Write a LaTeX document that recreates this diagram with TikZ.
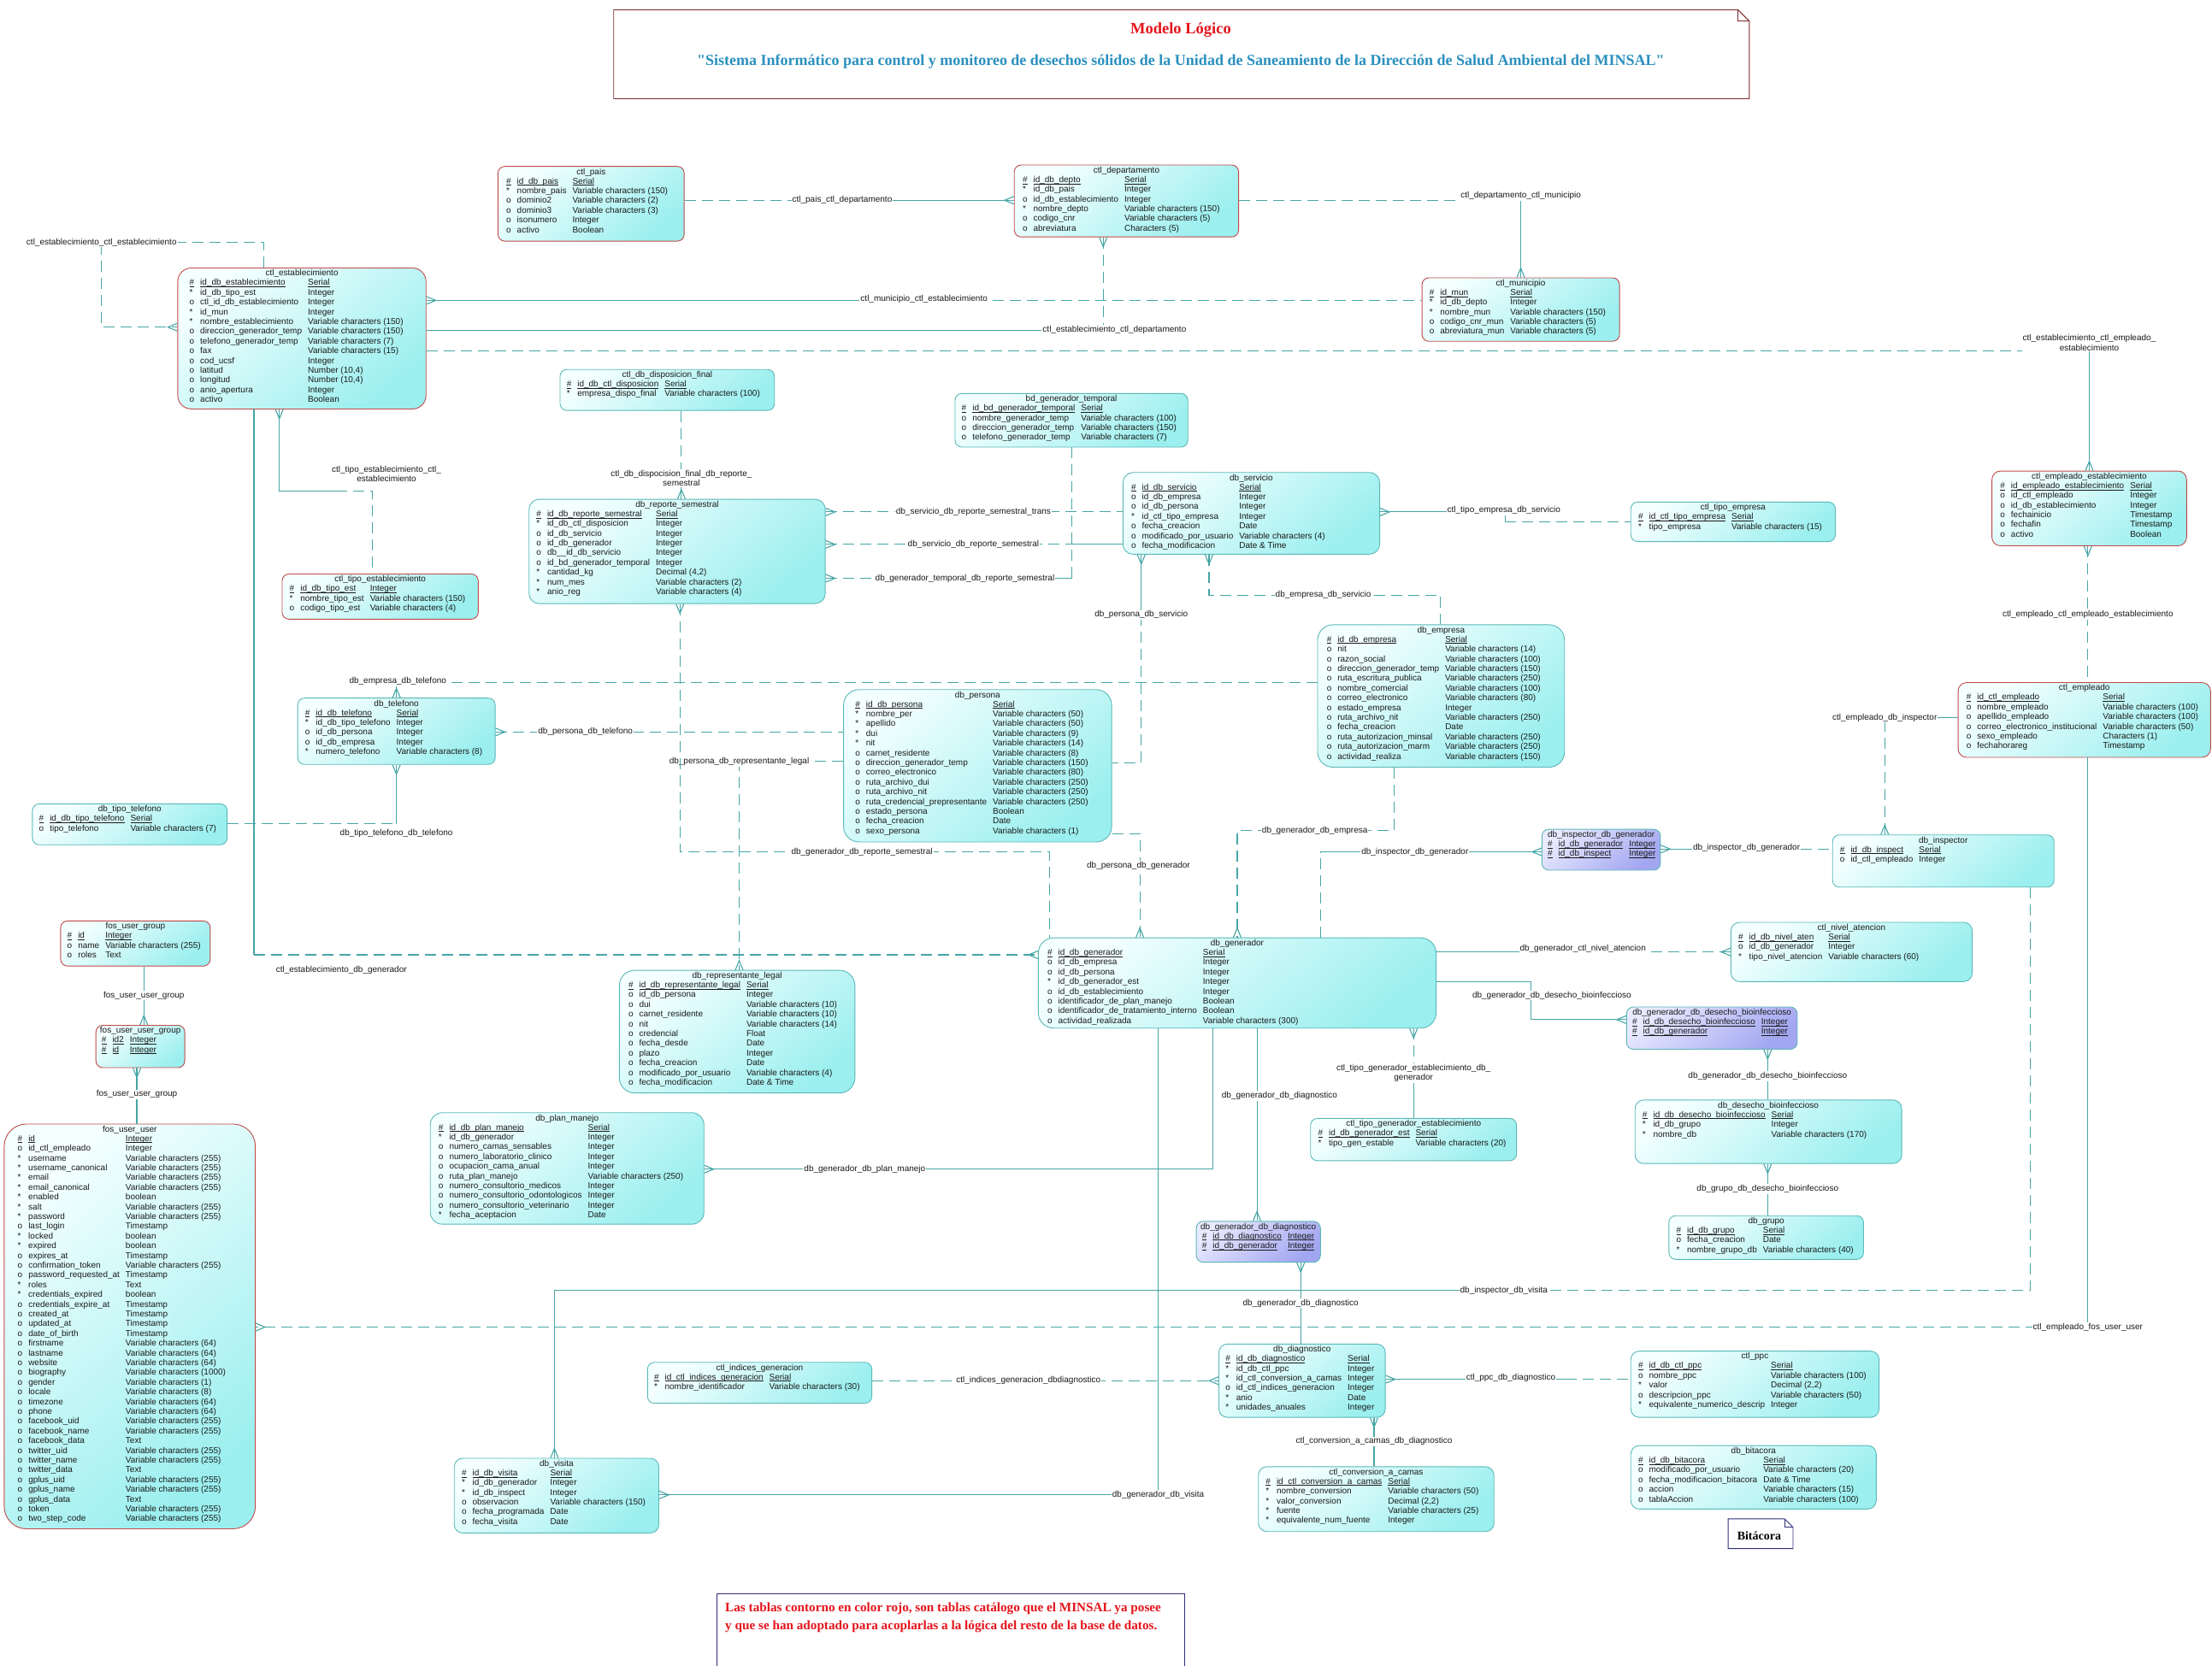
\documentclass[tikz,border=0pt]{standalone}
\usepackage{fontspec}
\setmainfont{Liberation Serif}
\newfontfamily\arialfont{Liberation Sans}
\usetikzlibrary{arrows.meta,fit}
\definecolor{tinta}{HTML}{1A1A1A}
\definecolor{linea}{HTML}{46A6A6}
\definecolor{bordeteal}{HTML}{5BB8B8}
\definecolor{borderojo}{HTML}{C24A48}
\definecolor{celeste0}{HTML}{F4FFFF}
\definecolor{celeste1}{HTML}{9CEFEF}
\definecolor{lila0}{HTML}{E8EAFF}
\definecolor{lila1}{HTML}{A2A6F0}
\definecolor{granate}{HTML}{7A2A2A}
\definecolor{azulnota}{HTML}{2E2E78}
\definecolor{rojotitulo}{HTML}{E5141B}
\definecolor{azultitulo}{HTML}{2A90BE}

\newcommand{\tblfont}{\arialfont\fontsize{10}{11.4}\selectfont}
\newcommand{\ob}{*}
\newcommand{\sub}[1]{\underline{\smash{#1}}}
\newcommand{\pk}[2]{\sub{\#} & \sub{#1} & \sub{#2}\\}
% tabla: estilo, margen, nombre, esquina NO, esquina SE, titulo, filas
\newcommand{\tabla}[7]{%
  \node[#1, fit={#4 #5}] (#3) {};
  \node[nombre] (#3-t) at ([yshift=-2pt]#3.north) {#6};
  \node[filas] (#3-f) at ([xshift=#2, yshift=-12.6pt]#3.north west)
    {\begin{tabular}{@{}l@{\hspace{7pt}}l@{\hspace{7pt}}l@{}}#7\end{tabular}};}

% pata de gallo
\pgfdeclarearrow{
  name = Crow,
  parameters = {\the\pgfarrowlength,\the\pgfarrowwidth},
  setup code = {
    \pgfarrowssettipend{0pt}
    \pgfarrowssetlineend{0pt}
    \pgfarrowssetbackend{-\pgfarrowlength}
    \pgfarrowssetvisualbackend{-\pgfarrowlength}
    \pgfarrowsupperhullpoint{0pt}{.5\pgfarrowwidth}
    \pgfarrowsupperhullpoint{-\pgfarrowlength}{0pt}
    \pgfarrowssavethe\pgfarrowlength
    \pgfarrowssavethe\pgfarrowwidth
  },
  drawing code = {
    \pgfsetdash{}{0pt}
    \pgfpathmoveto{\pgfqpoint{0pt}{.5\pgfarrowwidth}}
    \pgfpathlineto{\pgfqpoint{-\pgfarrowlength}{0pt}}
    \pgfpathlineto{\pgfqpoint{0pt}{-.5\pgfarrowwidth}}
    \pgfusepathqstroke
  },
  defaults = {length=11pt, width=9pt}
}

\tikzset{
  every node/.style={font=\tblfont, text=tinta},
  tabla/.style={draw=bordeteal, line width=0.9pt, rounded corners=8pt,
    inner sep=0pt, top color=celeste0, bottom color=celeste1, shading angle=40},
  catalogo/.style={tabla, draw=borderojo},
  enlace/.style={tabla, top color=lila0, bottom color=lila1, shading angle=40},
  nombre/.style={anchor=north, inner sep=0pt, text height=7.6pt, text depth=2.4pt},
  filas/.style={anchor=north west, inner sep=0pt},
  rel/.style={draw=linea, line width=1.1pt},
  punteada/.style={dash pattern=on 13pt off 7pt},
  rotulo/.style={fill=white, inner sep=1pt, align=center},
  nota/.style={line width=0.9pt}
}

\begin{document}
\catcode`\_=12
\begin{tikzpicture}[x=1.65pt, y=-1.65pt]
  \useasboundingbox (0,0) rectangle (1568,1181);
  \fill[white] (0,0) rectangle (1568,1181);

  % encabezado
  \draw[nota, draw=granate] (435,7) -- (1232,7) -- (1240,15) -- (1240,70) -- (435,70) -- cycle;
  \draw[nota, draw=granate] (1232,7) -- (1232,15) -- (1240,15);
  \node[font=\bfseries\fontsize{18.5}{22}\selectfont, text=rojotitulo] (titulo) at (837,21)
    {Modelo Lógico};
  \node[font=\bfseries\fontsize{18}{22}\selectfont, text=azultitulo] (subtitulo) at (837,44)
    {\textquotedbl Sistema Informático para control y monitoreo de desechos sólidos de la Unidad de Saneamiento de la Dirección de Salud Ambiental del MINSAL\textquotedbl};

  % tablas
  \tabla{catalogo}{10pt}{pais}{(353,118)}{(485,171)}{ctl_pais}{%
    \pk{id_db_pais}{Serial}
    \ob & nombre_pais & Variable characters (150)\\
    o & dominio2 & Variable characters (2)\\
    o & dominio3 & Variable characters (3)\\
    o & isonumero & Integer\\
    o & activo & Boolean\\}
  \tabla{catalogo}{10pt}{depto}{(719,117)}{(878,168)}{ctl_departamento}{%
    \pk{id_db_depto}{Serial}
    \ob & id_db_pais & Integer\\
    o & id_db_establecimiento & Integer\\
    \ob & nombre_depto & Variable characters (150)\\
    o & codigo_cnr & Variable characters (5)\\
    o & abreviatura & Characters (5)\\}
  \tabla{catalogo}{9pt}{mun}{(1008,197)}{(1148,242)}{ctl_municipio}{%
    \pk{id_mun}{Serial}
    \ob & id_db_depto & Integer\\
    \ob & nombre_mun & Variable characters (150)\\
    o & codigo_cnr_mun & Variable characters (5)\\
    o & abreviatura_mun & Variable characters (5)\\}
  \tabla{catalogo, rounded corners=16pt}{14pt}{est}{(126,190)}{(302,290)}{ctl_establecimiento}{%
    \pk{id_db_establecimiento}{Serial}
    \ob & id_db_tipo_est & Integer\\
    o & ctl_id_db_establecimiento & Integer\\
    \ob & id_mun & Integer\\
    \ob & nombre_establecimiento & Variable characters (150)\\
    o & direccion_generador_temp & Variable characters (150)\\
    o & telefono_generador_temp & Variable characters (7)\\
    o & fax & Variable characters (15)\\
    o & cod_ucsf & Integer\\
    o & latitud & Number (10,4)\\
    o & longitud & Number (10,4)\\
    o & anio_apertura & Integer\\
    o & activo & Boolean\\}
  \tabla{catalogo}{9pt}{tipoest}{(200,407)}{(339,439)}{ctl_tipo_establecimiento}{%
    \pk{id_db_tipo_est}{Integer}
    \ob & nombre_tipo_est & Variable characters (150)\\
    o & codigo_tipo_est & Variable characters (4)\\}
  \tabla{tabla}{8pt}{disp}{(397,262)}{(549,291)}{ctl_db_disposicion_final}{%
    \pk{id_db_ctl_disposicion}{Serial}
    \ob & empresa_dispo_final & Variable characters (100)\\}
  \tabla{tabla}{8pt}{gentemp}{(677,279)}{(842,317)}{bd_generador_temporal}{%
    \pk{id_bd_generador_temporal}{Serial}
    o & nombre_generador_temp & Variable characters (100)\\
    o & direccion_generador_temp & Variable characters (150)\\
    o & telefono_generador_temp & Variable characters (7)\\}
  \tabla{tabla, rounded corners=12pt}{9pt}{reporte}{(375,354)}{(585,428)}{db_reporte_semestral}{%
    \pk{id_db_reporte_semestral}{Serial}
    \ob & id_db_ctl_disposicion & Integer\\
    o & id_db_servicio & Integer\\
    o & id_db_generador & Integer\\
    o & db__id_db_servicio & Integer\\
    o & id_bd_generador_temporal & Integer\\
    \ob & cantidad_kg & Decimal (4,2)\\
    \ob & num_mes & Variable characters (2)\\
    \ob & anio_reg & Variable characters (4)\\}
  \tabla{tabla, rounded corners=12pt}{10pt}{servicio}{(796,335)}{(978,393)}{db_servicio}{%
    \pk{id_db_servicio}{Serial}
    o & id_db_empresa & Integer\\
    o & id_db_persona & Integer\\
    \ob & id_ctl_tipo_empresa & Integer\\
    o & fecha_creacion & Date\\
    o & modificado_por_usuario & Variable characters (4)\\
    o & fecha_modificacion & Date \& Time\\}
  \tabla{tabla}{9pt}{tipoemp}{(1156,356)}{(1301,384)}{ctl_tipo_empresa}{%
    \pk{id_ctl_tipo_empresa}{Serial}
    \ob & tipo_empresa & Variable characters (15)\\}
  \tabla{catalogo, rounded corners=10pt}{10pt}{empest}{(1412,334)}{(1550,387)}{ctl_empleado_establecimiento}{%
    \pk{id_empleado_establecimiento}{Serial}
    o & id_ctl_empleado & Integer\\
    o & id_db_establecimiento & Integer\\
    o & fechainicio & Timestamp\\
    o & fechafin & Timestamp\\
    o & activo & Boolean\\}
  \tabla{tabla, rounded corners=18pt}{11pt}{empresa}{(934,443)}{(1109,544)}{db_empresa}{%
    \pk{id_db_empresa}{Serial}
    o & nit & Variable characters (14)\\
    o & razon_social & Variable characters (100)\\
    o & direccion_generador_temp & Variable characters (150)\\
    o & ruta_escritura_publica & Variable characters (250)\\
    o & nombre_comercial & Variable characters (100)\\
    o & correo_electronico & Variable characters (80)\\
    o & estado_empresa & Integer\\
    o & ruta_archivo_nit & Variable characters (250)\\
    o & fecha_creacion & Date\\
    o & ruta_autorizacion_minsal & Variable characters (250)\\
    o & ruta_autorizacion_marm & Variable characters (250)\\
    o & actividad_realiza & Variable characters (150)\\}
  \tabla{catalogo, rounded corners=10pt}{10pt}{empleado}{(1388,484)}{(1567,537)}{ctl_empleado}{%
    \pk{id_ctl_empleado}{Serial}
    o & nombre_empleado & Variable characters (100)\\
    o & apellido_empleado & Variable characters (100)\\
    o & correo_electronico_institucional & Variable characters (50)\\
    o & sexo_empleado & Characters (1)\\
    o & fechahorareg & Timestamp\\}
  \tabla{tabla}{9pt}{telefono}{(211,495)}{(351,542)}{db_telefono}{%
    \pk{id_db_telefono}{Serial}
    \ob & id_db_tipo_telefono & Integer\\
    o & id_db_persona & Integer\\
    o & id_db_empresa & Integer\\
    \ob & numero_telefono & Variable characters (8)\\}
  \tabla{tabla, rounded corners=18pt}{14pt}{persona}{(598,489)}{(788,597)}{db_persona}{%
    \pk{id_db_persona}{Serial}
    \ob & nombre_per & Variable characters (50)\\
    \ob & apellido & Variable characters (50)\\
    \ob & dui & Variable characters (9)\\
    \ob & nit & Variable characters (14)\\
    o & carnet_residente & Variable characters (8)\\
    o & direccion_generador_temp & Variable characters (150)\\
    o & correo_electronico & Variable characters (80)\\
    o & ruta_archivo_dui & Variable characters (250)\\
    o & ruta_archivo_nit & Variable characters (250)\\
    o & ruta_credencial_prepresentante & Variable characters (250)\\
    o & estado_persona & Boolean\\
    o & fecha_creacion & Date\\
    o & sexo_persona & Variable characters (1)\\}
  \tabla{tabla}{8pt}{tipotel}{(23,570)}{(161,599)}{db_tipo_telefono}{%
    \pk{id_db_tipo_telefono}{Serial}
    o & tipo_telefono & Variable characters (7)\\}
  \tabla{enlace}{7pt}{insgen}{(1093,588)}{(1177,617)}{db_inspector_db_generador}{%
    \pk{id_db_generador}{Integer}
    \pk{id_db_inspect}{Integer}}
  \tabla{tabla}{9pt}{inspector}{(1299,592)}{(1456,629)}{db_inspector}{%
    \pk{id_db_inspect}{Serial}
    o & id_ctl_empleado & Integer\\}
  \tabla{tabla, rounded corners=10pt}{9pt}{nivel}{(1227,654)}{(1398,696)}{ctl_nivel_atencion}{%
    \pk{id_db_nivel_aten}{Serial}
    o & id_db_generador & Integer\\
    \ob & tipo_nivel_atencion & Variable characters (60)\\}
  \tabla{catalogo}{8pt}{fosgroup}{(43,653)}{(149,685)}{fos_user_group}{%
    \pk{id}{Integer}
    o & name & Variable characters (255)\\
    o & roles & Text\\}
  \tabla{tabla, rounded corners=18pt}{11pt}{generador}{(736,665)}{(1018,729)}{db_generador}{%
    \pk{id_db_generador}{Serial}
    o & id_db_empresa & Integer\\
    o & id_db_persona & Integer\\
    \ob & id_db_generador_est & Integer\\
    o & id_db_establecimiento & Integer\\
    o & identificador_de_plan_manejo & Boolean\\
    o & identificador_de_tratamiento_interno & Boolean\\
    o & actividad_realizada & Variable characters (300)\\}
  \tabla{tabla, rounded corners=18pt}{11pt}{replegal}{(439,688)}{(606,775)}{db_representante_legal}{%
    \pk{id_db_representante_legal}{Serial}
    o & id_db_persona & Integer\\
    o & dui & Variable characters (10)\\
    o & carnet_residente & Variable characters (10)\\
    o & nit & Variable characters (14)\\
    o & credencial & Float\\
    o & fecha_desde & Date\\
    o & plazo & Integer\\
    o & fecha_creacion & Date\\
    o & modificado_por_usuario & Variable characters (4)\\
    o & fecha_modificacion & Date \& Time\\}
  \tabla{catalogo}{7pt}{fosusergroup}{(68,727)}{(131,757)}{fos_user_user_group}{%
    \pk{id2}{Integer}
    \pk{id}{Integer}}
  \tabla{enlace}{7pt}{gendesecho}{(1153,714)}{(1274,744)}{db_generador_db_desecho_bioinfeccioso}{%
    \pk{id_db_desecho_bioinfeccioso}{Integer}
    \pk{id_db_generador}{Integer}}
  \tabla{catalogo, rounded corners=26pt}{16pt}{fosuser}{(3,797)}{(181,1084)}{fos_user_user}{%
    \pk{id}{Integer}
    o & id_ctl_empleado & Integer\\
    \ob & username & Variable characters (255)\\
    \ob & username_canonical & Variable characters (255)\\
    \ob & email & Variable characters (255)\\
    \ob & email_canonical & Variable characters (255)\\
    \ob & enabled & boolean\\
    \ob & salt & Variable characters (255)\\
    \ob & password & Variable characters (255)\\
    o & last_login & Timestamp\\
    \ob & locked & boolean\\
    \ob & expired & boolean\\
    o & expires_at & Timestamp\\
    o & confirmation_token & Variable characters (255)\\
    o & password_requested_at & Timestamp\\
    \ob & roles & Text\\
    \ob & credentials_expired & boolean\\
    o & credentials_expire_at & Timestamp\\
    o & created_at & Timestamp\\
    o & updated_at & Timestamp\\
    o & date_of_birth & Timestamp\\
    o & firstname & Variable characters (64)\\
    o & lastname & Variable characters (64)\\
    o & website & Variable characters (64)\\
    o & biography & Variable characters (1000)\\
    o & gender & Variable characters (1)\\
    o & locale & Variable characters (8)\\
    o & timezone & Variable characters (64)\\
    o & phone & Variable characters (64)\\
    o & facebook_uid & Variable characters (255)\\
    o & facebook_name & Variable characters (255)\\
    o & facebook_data & Text\\
    o & twitter_uid & Variable characters (255)\\
    o & twitter_name & Variable characters (255)\\
    o & twitter_data & Text\\
    o & gplus_uid & Variable characters (255)\\
    o & gplus_name & Variable characters (255)\\
    o & gplus_data & Text\\
    o & token & Variable characters (255)\\
    o & two_step_code & Variable characters (255)\\}
  \tabla{tabla, rounded corners=14pt}{10pt}{plan}{(305,789)}{(499,868)}{db_plan_manejo}{%
    \pk{id_db_plan_manejo}{Serial}
    \ob & id_db_generador & Integer\\
    o & numero_camas_sensables & Integer\\
    o & numero_laboratorio_clinico & Integer\\
    o & ocupacion_cama_anual & Integer\\
    o & ruta_plan_manejo & Variable characters (250)\\
    o & numero_consultorio_medicos & Integer\\
    o & numero_consultorio_odontologicos & Integer\\
    o & numero_consultorio_veterinario & Integer\\
    \ob & fecha_aceptacion & Date\\}
  \tabla{tabla}{9pt}{tipogen}{(929,793)}{(1075,823)}{ctl_tipo_generador_establecimiento}{%
    \pk{id_db_generador_est}{Serial}
    \ob & tipo_gen_estable & Variable characters (20)\\}
  \tabla{tabla, rounded corners=10pt}{9pt}{desecho}{(1159,780)}{(1348,825)}{db_desecho_bioinfeccioso}{%
    \pk{id_db_desecho_bioinfeccioso}{Serial}
    \ob & id_db_grupo & Integer\\
    \ob & nombre_db & Variable characters (170)\\}
  \tabla{tabla}{9pt}{grupo}{(1183,862)}{(1321,893)}{db_grupo}{%
    \pk{id_db_grupo}{Serial}
    o & fecha_creacion & Date\\
    \ob & nombre_grupo_db & Variable characters (40)\\}
  \tabla{enlace}{7pt}{gendiag}{(848,866)}{(936,895)}{db_generador_db_diagnostico}{%
    \pk{id_db_diagnostico}{Integer}
    \pk{id_db_generador}{Integer}}
  \tabla{tabla}{8pt}{indices}{(459,966)}{(618,995)}{ctl_indices_generacion}{%
    \pk{id_ctl_indices_generacion}{Serial}
    \ob & nombre_identificador & Variable characters (30)\\}
  \tabla{tabla, rounded corners=10pt}{8pt}{diag}{(864,953)}{(982,1005)}{db_diagnostico}{%
    \pk{id_db_diagnostico}{Serial}
    \ob & id_db_ctl_ppc & Integer\\
    \ob & id_ctl_conversion_a_camas & Integer\\
    o & id_ctl_indices_generacion & Integer\\
    \ob & anio & Date\\
    \ob & unidades_anuales & Integer\\}
  \tabla{tabla, rounded corners=10pt}{9pt}{ppc}{(1156,958)}{(1332,1005)}{ctl_ppc}{%
    \pk{id_db_ctl_ppc}{Serial}
    o & nombre_ppc & Variable characters (100)\\
    \ob & valor & Decimal (2,2)\\
    o & descripcion_ppc & Variable characters (50)\\
    \ob & equivalente_numerico_descrip & Integer\\}
  \tabla{tabla, rounded corners=10pt}{9pt}{visita}{(322,1034)}{(467,1087)}{db_visita}{%
    \pk{id_db_visita}{Serial}
    \ob & id_db_generador & Integer\\
    \ob & id_db_inspect & Integer\\
    o & observacion & Variable characters (150)\\
    o & fecha_programada & Date\\
    o & fecha_visita & Date\\}
  \tabla{tabla, rounded corners=10pt}{9pt}{conversion}{(892,1040)}{(1059,1086)}{ctl_conversion_a_camas}{%
    \pk{id_ctl_conversion_a_camas}{Serial}
    \ob & nombre_conversion & Variable characters (50)\\
    \ob & valor_conversion & Decimal (2,2)\\
    \ob & fuente & Variable characters (25)\\
    \ob & equivalente_num_fuente & Integer\\}
  \tabla{tabla, rounded corners=10pt}{9pt}{bitacora}{(1156,1025)}{(1330,1070)}{db_bitacora}{%
    \pk{id_db_bitacora}{Serial}
    o & modificado_por_usuario & Variable characters (20)\\
    o & fecha_modificacion_bitacora & Date \& Time\\
    o & accion & Variable characters (15)\\
    o & tablaAccion & Variable characters (100)\\}

  % relaciones
  \coordinate (k1) at (612,142);
  \draw[rel, punteada] (pais.east |- k1) -- (k1);
  \draw[rel, -Crow] (k1) -- (depto.west |- k1);
  \node[rotulo] (r1) at (597,142) {ctl_pais_ctl_departamento};

  \coordinate (k2) at (1078,142);
  \draw[rel, punteada] (depto.east |- k2) -- (k2);
  \draw[rel, -Crow] (k2) -- (mun.north -| k2);
  \node[rotulo] (r2) at (1078,139) {ctl_departamento_ctl_municipio};

  \coordinate (k3) at (782,234);
  \draw[rel, punteada, Crow-] (depto.south -| k3) -- (k3);
  \draw[rel] (k3) -- (est.east |- k3);
  \node[rotulo] (r3) at (790,234) {ctl_establecimiento_ctl_departamento};

  \coordinate (k4) at (655,213);
  \draw[rel, Crow-] (est.east |- k4) -- (k4);
  \draw[rel, punteada] (k4) -- (mun.west |- k4);
  \node[rotulo] (r4) at (655,212) {ctl_municipio_ctl_establecimiento};

  \coordinate (k5) at (1481,249);
  \draw[rel, punteada] (est.east |- k5) -- (k5);
  \draw[rel, -Crow] (k5) -- (empest.north -| k5);
  \node[rotulo] (r5) at (1481,243) {ctl_establecimiento_ctl_empleado_\\establecimiento};

  \coordinate (k6a) at (187,172);
  \coordinate (k6b) at (72,232);
  \draw[rel, punteada, -Crow] (est.north -| k6a) -- (k6a) -| (k6b) -- (est.west |- k6b);
  \node[rotulo] (r6) at (72,172) {ctl_establecimiento_ctl_establecimiento};

  \coordinate (k7a) at (198,348);
  \coordinate (k7b) at (238,348);
  \coordinate (k7c) at (264,348);
  \draw[rel, Crow-] (est.south -| k7a) -- (k7a) -- (k7b);
  \draw[rel, punteada] (k7b) -- (k7c) -- (tipoest.north -| k7c);
  \node[rotulo, fill=none] (r7) at (274,336) {ctl_tipo_establecimiento_ctl_\\establecimiento};

  \coordinate (k8) at (180,677);
  \draw[rel] (est.south -| k8) -- (k8);
  \draw[rel, punteada, -Crow] (k8) -- (generador.west |- k8);
  \node[rotulo, fill=none] (r8) at (242,688) {ctl_establecimiento_db_generador};

  \coordinate (k9) at (483,339);
  \draw[rel, punteada] (disp.south -| k9) -- (k9);
  \draw[rel, -Crow] (k9) -- (reporte.north -| k9);
  \node[rotulo] (r9) at (k9) {ctl_db_dispocision_final_db_reporte_\\semestral};

  \coordinate (k10) at (690,363);
  \draw[rel, punteada, Crow-] (reporte.east |- k10) -- (servicio.west |- k10);
  \node[rotulo] (r10) at (k10) {db_servicio_db_reporte_semestral_trans};

  \coordinate (k11) at (760,386);
  \draw[rel, punteada, Crow-] (reporte.east |- k11) -- (k11);
  \draw[rel] (k11) -- (servicio.west |- k11);
  \node[rotulo] (r11) at (690,386) {db_servicio_db_reporte_semestral};

  \coordinate (k12a) at (684,410);
  \coordinate (k12b) at (760,410);
  \draw[rel, punteada, Crow-] (reporte.east |- k12a) -- (k12a);
  \draw[rel] (k12a) -- (k12b);
  \draw[rel, punteada] (k12b) -- (gentemp.south -| k12b);
  \node[rotulo] (r12) at (k12a) {db_generador_temporal_db_reporte_semestral};

  \coordinate (k13a) at (1067,363);
  \coordinate (k13b) at (1067,370);
  \draw[rel, Crow-] (servicio.east |- k13a) -- (k13a) -- (k13b);
  \draw[rel, punteada] (k13b) -- (tipoemp.west |- k13b);
  \node[rotulo] (r13) at (1066,362) {ctl_tipo_empresa_db_servicio};

  \coordinate (k14a) at (857,422);
  \coordinate (k14b) at (1021,422);
  \draw[rel, punteada, Crow-] (servicio.south -| k14a) -- (k14a) -- (k14b) -- (empresa.north -| k14b);
  \node[rotulo] (r14) at (938,422) {db_empresa_db_servicio};

  \coordinate (k15a) at (809,436);
  \coordinate (k15b) at (809,541);
  \draw[rel, Crow-] (servicio.south -| k15a) -- (k15a);
  \draw[rel, punteada] (k15a) -- (k15b) -- (persona.east |- k15b);
  \node[rotulo] (r15) at (k15a) {db_persona_db_servicio};

  \coordinate (k16) at (281,484);
  \draw[rel, punteada] (empresa.west |- k16) -- (k16);
  \draw[rel, -Crow] (k16) -- (telefono.north -| k16);
  \node[rotulo] (r16) at (282,483) {db_empresa_db_telefono};

  \coordinate (k17) at (415,519);
  \draw[rel, punteada, Crow-] (telefono.east |- k17) -- (persona.west |- k17);
  \node[rotulo] (r17) at (k17) {db_persona_db_telefono};

  \coordinate (k18) at (281,584);
  \draw[rel, punteada] (tipotel.east |- k18) -- (k18);
  \draw[rel, -Crow] (k18) -- (telefono.south -| k18);
  \node[rotulo, fill=none] (r18) at (281,591) {db_tipo_telefono_db_telefono};

  \coordinate (k19) at (524,540);
  \draw[rel, punteada, -Crow] (persona.west |- k19) -- (k19) -- (replegal.north -| k19);
  \node[rotulo] (r19) at (k19) {db_persona_db_representante_legal};

  \coordinate (k20a) at (482,604);
  \coordinate (k20b) at (744,604);
  \draw[rel, punteada, Crow-] (reporte.south -| k20a) -- (k20a) -- (k20b) -- (generador.north -| k20b);
  \node[rotulo] (r20) at (611,604) {db_generador_db_reporte_semestral};

  \coordinate (k21) at (808,591);
  \draw[rel, punteada, -Crow] (persona.east |- k21) -- (k21) -- (generador.north -| k21);
  \node[rotulo] (r21) at (807,614) {db_persona_db_generador};

  \coordinate (k22a) at (988,589);
  \coordinate (k22b) at (877,589);
  \draw[rel, punteada, -Crow] (empresa.south -| k22a) -- (k22a) -- (k22b) -- (generador.north -| k22b);
  \node[rotulo] (r22) at (932,589) {db_generador_db_empresa};

  \coordinate (k23) at (936,604);
  \draw[rel, punteada] (generador.north -| k23) -- (k23);
  \draw[rel, -Crow] (k23) -- (insgen.west |- k23);
  \node[rotulo] (r23) at (1003,604) {db_inspector_db_generador};

  \coordinate (k24) at (1240,602);
  \draw[rel, Crow-] (insgen.east |- k24) -- (k24);
  \draw[rel, punteada] (k24) -- (inspector.west |- k24);
  \node[rotulo] (r24) at (1238,601) {db_inspector_db_generador};

  \coordinate (k25) at (1336,509);
  \draw[rel, punteada, Crow-] (inspector.north -| k25) -- (k25);
  \draw[rel] (k25) -- (empleado.west |- k25);
  \node[rotulo] (r25) at (k25) {ctl_empleado_db_inspector};

  \coordinate (k26) at (1480,436);
  \draw[rel, punteada, Crow-] (empest.south -| k26) -- (empleado.north -| k26);
  \node[rotulo] (r26) at (k26) {ctl_empleado_ctl_empleado_establecimiento};

  \coordinate (k27a) at (1439,915);
  \coordinate (k27b) at (1066,915);
  \coordinate (k27c) at (393,915);
  \draw[rel, punteada] (inspector.south -| k27a) -- (k27a) -- (k27b);
  \draw[rel, -Crow] (k27b) -- (k27c) -- (visita.north -| k27c);
  \node[rotulo] (r27) at (k27b) {db_inspector_db_visita};

  \coordinate (k28) at (1480,941);
  \draw[rel] (empleado.south -| k28) -- (k28);
  \draw[rel, punteada, -Crow] (k28) -- (fosuser.east |- k28);
  \node[rotulo] (r28) at (k28) {ctl_empleado_fos_user_user};

  \coordinate (k29) at (102,706);
  \draw[rel, -Crow] (fosgroup.south -| k29) -- (fosusergroup.north -| k29);
  \node[rotulo] (r29) at (k29) {fos_user_user_group};

  \coordinate (k30) at (97,776);
  \draw[rel, Crow-] (fosusergroup.south -| k30) -- (fosuser.north -| k30);
  \node[rotulo] (r30) at (k30) {fos_user_user_group};

  \coordinate (k31) at (1122,675);
  \draw[rel] (generador.east |- k31) -- (k31);
  \draw[rel, punteada, -Crow] (k31) -- (nivel.west |- k31);
  \node[rotulo] (r31) at (1122,673) {db_generador_ctl_nivel_atencion};

  \coordinate (k32a) at (1085,696);
  \coordinate (k32b) at (1085,723);
  \draw[rel, -Crow] (generador.east |- k32a) -- (k32a) -- (k32b) -- (gendesecho.west |- k32b);
  \node[rotulo] (r32) at (1100,706) {db_generador_db_desecho_bioinfeccioso};

  \coordinate (k33) at (1253,763);
  \draw[rel, Crow-] (gendesecho.south -| k33) -- (desecho.north -| k33);
  \node[rotulo] (r33) at (k33) {db_generador_db_desecho_bioinfeccioso};

  \coordinate (k34) at (1253,843);
  \draw[rel, Crow-] (desecho.south -| k34) -- (grupo.north -| k34);
  \node[rotulo] (r34) at (k34) {db_grupo_db_desecho_bioinfeccioso};

  \coordinate (k35) at (1002,761);
  \draw[rel, punteada, Crow-] (generador.south -| k35) -- (k35);
  \draw[rel] (k35) -- (tipogen.north -| k35);
  \node[rotulo] (r35) at (k35) {ctl_tipo_generador_establecimiento_db_\\generador};

  \coordinate (k36) at (891,777);
  \draw[rel, -Crow] (generador.south -| k36) -- (gendiag.north -| k36);
  \node[rotulo] (r36) at (907,777) {db_generador_db_diagnostico};

  \coordinate (k37) at (922,924);
  \draw[rel, Crow-] (gendiag.south -| k37) -- (diag.north -| k37);
  \node[rotulo] (r37) at (k37) {db_generador_db_diagnostico};

  \coordinate (k38) at (729,979);
  \draw[rel, punteada, -Crow] (indices.east |- k38) -- (diag.west |- k38);
  \node[rotulo] (r38) at (k38) {ctl_indices_generacion_dbdiagnostico};

  \coordinate (k39) at (1110,978);
  \draw[rel, Crow-] (diag.east |- k39) -- (k39);
  \draw[rel, punteada] (k39) -- (ppc.west |- k39);
  \node[rotulo] (r39) at (1071,977) {ctl_ppc_db_diagnostico};

  \coordinate (k40) at (974,1022);
  \draw[rel, Crow-] (diag.south -| k40) -- (conversion.north -| k40);
  \node[rotulo] (r40) at (k40) {ctl_conversion_a_camas_db_diagnostico};

  \coordinate (k41) at (860,829);
  \draw[rel, -Crow] (generador.south -| k41) -- (k41) -- (plan.east |- k41);
  \node[rotulo] (r41) at (613,829) {db_generador_db_plan_manejo};

  \coordinate (k42) at (821,1060);
  \draw[rel, -Crow] (generador.south -| k42) -- (k42) -- (visita.east |- k42);
  \node[rotulo] (r42) at (k42) {db_generador_db_visita};

  % notas
  \draw[nota, draw=azulnota, fill=white] (1225,1077) -- (1265,1077) -- (1271,1083)
    -- (1271,1098) -- (1225,1098) -- cycle;
  \draw[nota, draw=azulnota] (1265,1077) -- (1265,1083) -- (1271,1083);
  \node[font=\bfseries\fontsize{14}{16}\selectfont, text=black] (bitnota) at (1247,1089) {Bitácora};

  \draw[nota, draw=azulnota] (508,1190) -- (508,1130) -- (840,1130) -- (840,1190);
  \node[anchor=north west, align=left, inner sep=0pt, text=rojotitulo,
    font=\bfseries\fontsize{15.2}{21.5}\selectfont] (aviso) at (514,1136)
    {Las tablas contorno en color rojo, son tablas catálogo que el MINSAL ya posee\\
     y que se han adoptado para acoplarlas a la lógica del resto de la base de datos.};
\end{tikzpicture}
\end{document}
